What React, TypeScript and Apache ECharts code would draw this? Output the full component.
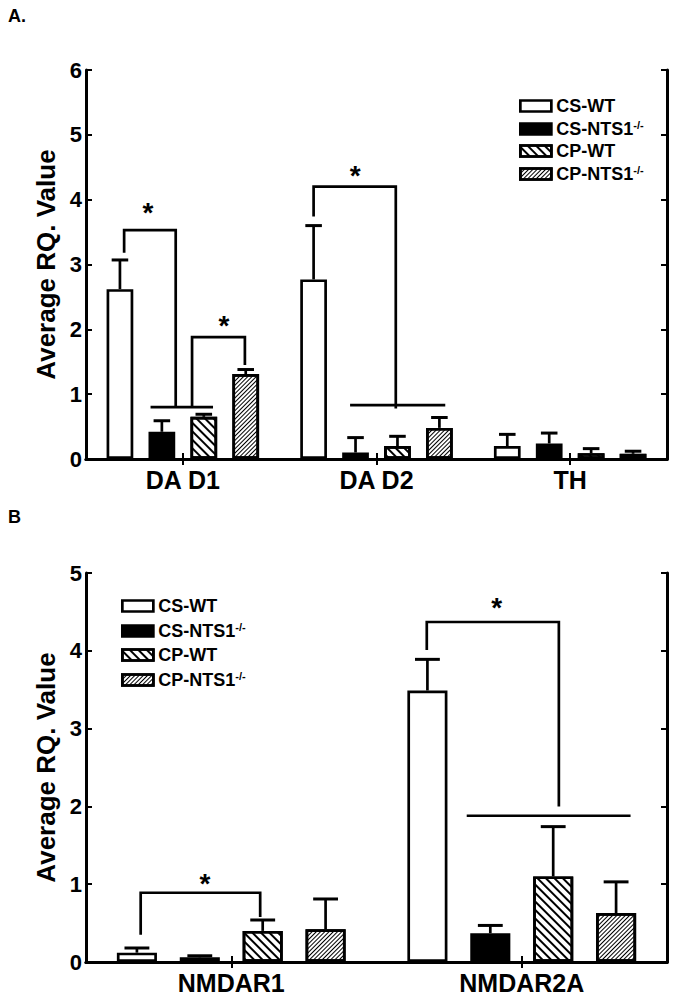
import React, { useEffect, useRef } from 'react';
import * as echarts from 'echarts';

const FONT = '"Liberation Sans", Arial, Helvetica, sans-serif';

// ---------- data ----------
const seriesNames = ['CS-WT', 'CS-NTS1-/-', 'CP-WT', 'CP-NTS1-/-'];

// Panel A
const categoriesA = ['DA D1', 'DA D2', 'TH'];
const yTicksA = [0, 1, 2, 3, 4, 5, 6];
const csWtA = [2.62, 2.77, 0.2];
const csNtsA = [0.42, 0.1, 0.24];
const cpWtA = [0.65, 0.2, 0.09];
const cpNtsA = [1.31, 0.48, 0.08];
const csWtSemA = [0.45, 0.83, 0.18];
const csNtsSemA = [0.17, 0.23, 0.16];
const cpWtSemA = [0.04, 0.15, 0.07];
const cpNtsSemA = [0.07, 0.16, 0.04];

// Panel B
const categoriesB = ['NMDAR1', 'NMDAR2A'];
const yTicksB = [0, 1, 2, 3, 4, 5];
const csWtB = [0.12, 3.49];
const csNtsB = [0.06, 0.37];
const cpWtB = [0.4, 1.1];
const cpNtsB = [0.42, 0.63];
const csWtSemB = [0.06, 0.4];
const csNtsSemB = [0.02, 0.1];
const cpWtSemB = [0.14, 0.64];
const cpNtsSemB = [0.39, 0.4];

// significance brackets: points as [category index, offset in bar slots, value]
const bracketsA = [
  [[0, -1.4, 3.18], [0, -1.4, 3.53], [0, -0.17, 3.53], [0, -0.17, 0.8]],
  [[0, -0.77, 0.8], [0, 0.72, 0.8]],
  [[0, 0.22, 0.8], [0, 0.22, 1.88], [0, 1.48, 1.88], [0, 1.48, 1.45]],
  [[1, -1.5, 3.74], [1, -1.5, 4.2], [1, 0.46, 4.2], [1, 0.46, 0.78]],
  [[1, -0.63, 0.83], [1, 1.64, 0.83]],
];
const starsA = [[0, -0.83, 3.89], [0, 0.98, 2.15], [1, -0.51, 4.46]];

const bracketsB = [
  [[0, -1.44, 0.35], [0, -1.44, 0.89], [0, 0.46, 0.89], [0, 0.46, 0.58]],
  [[1, -1.51, 4.01], [1, -1.51, 4.37], [1, 0.59, 4.37], [1, 0.59, 2.0]],
  [[1, -0.875, 1.88], [1, 1.73, 1.88]],
];
const starsB = [[0, -0.42, 1.09], [1, -0.4, 4.63]];

// ---------- layout / style constants ----------
const SLOT = 0.2165; // distance between bar centres, fraction of category width
const BAR = 0.138; // bar width, fraction of category width
const BW = 2.7;

const styles: any[] = [
  { color: '#fff', borderColor: '#000', borderWidth: BW },
  { color: '#000', borderColor: '#000', borderWidth: BW },
  {
    color: '#fff', borderColor: '#000', borderWidth: BW,
    decal: { symbol: 'rect', symbolSize: 1, dashArrayX: [1, 0], dashArrayY: [1.6, 3.2], rotation: Math.PI / 4, color: '#000', backgroundColor: '#fff' },
  },
  {
    color: '#fff', borderColor: '#000', borderWidth: BW,
    decal: { symbol: 'rect', symbolSize: 1, dashArrayX: [1, 0], dashArrayY: [0.9, 1.5], rotation: -Math.PI / 4, color: '#000', backgroundColor: '#fff' },
  },
];

const errRender = (slot: number) => (params: any, api: any) => {
  const c = api.value(0);
  const m = api.value(1);
  const s = api.value(2);
  const base = api.coord([c, m]);
  const top = api.coord([c, m + s]);
  const w = api.size([1, 0])[0];
  const x = base[0] + slot * SLOT * w;
  const half = BAR * w * 0.31;
  return {
    type: 'group',
    children: [
      { type: 'line', shape: { x1: x, y1: base[1], x2: x, y2: top[1] }, style: { stroke: '#000', lineWidth: 2.7 } },
      { type: 'line', shape: { x1: x - half, y1: top[1], x2: x + half, y2: top[1] }, style: { stroke: '#000', lineWidth: 3 } },
    ],
  };
};

const bracketRender = (brackets: number[][][]) => (params: any, api: any) => {
  const idx = api.value(2);
  const w = api.size([1, 0])[0];
  const pts = brackets[idx].map(([c, o, v]) => {
    const p = api.coord([c, v]);
    return [p[0] + o * SLOT * w, p[1]];
  });
  return { type: 'polyline', shape: { points: pts }, style: { stroke: '#000', lineWidth: 2.7, fill: null } };
};

const starRender = (params: any, api: any) => {
  const c = api.value(0);
  const o = api.value(1);
  const v = api.value(2);
  const w = api.size([1, 0])[0];
  const p = api.coord([c, v]);
  return {
    type: 'text',
    x: p[0] + o * SLOT * w,
    y: p[1] + 6,
    style: { text: '*', fontSize: 28, fontWeight: 'bold', fontFamily: FONT, fill: '#000', align: 'center', verticalAlign: 'middle' },
  };
};

function panelSeries(gi: number, cats: string[], means: number[][], sems: number[][], brackets: number[][][], stars: number[][]) {
  const out: any[] = [];
  means.forEach((vals, i) => {
    out.push({
      type: 'bar', name: seriesNames[i], xAxisIndex: gi * 2, yAxisIndex: gi * 2,
      data: vals, barWidth: `${BAR * 100}%`, barGap: `${((SLOT - BAR) / BAR) * 100}%`,
      itemStyle: styles[i], emphasis: { disabled: true }, z: 2,
    });
  });
  means.forEach((vals, i) => {
    out.push({
      type: 'custom', name: 'err' + i, xAxisIndex: gi * 2, yAxisIndex: gi * 2,
      renderItem: errRender(i - 1.5),
      encode: { x: 0, y: 1 },
      data: cats.map((_, c) => [c, vals[c], sems[i][c]]), z: 3,
    });
  });
  out.push({
    type: 'custom', name: 'brackets', xAxisIndex: gi * 2, yAxisIndex: gi * 2,
    renderItem: bracketRender(brackets), encode: { x: 0, y: 1 },
    data: brackets.map((b, i) => [b[0][0], b[0][2], i]), z: 4,
  });
  out.push({
    type: 'custom', name: 'stars', xAxisIndex: gi * 2, yAxisIndex: gi * 2,
    renderItem: starRender, encode: { x: 0, y: 2 },
    data: stars, z: 4,
  });
  return out;
}

const axisLine = { show: true, lineStyle: { color: '#000', width: 3 } };
const tick = { show: true, inside: true, length: 6, alignWithLabel: true, lineStyle: { color: '#000', width: 2 } };

function xAxes(gi: number, cats: string[], fontSize: number) {
  return [
    {
      type: 'category', gridIndex: gi, data: cats, position: 'bottom', axisLine, axisTick: tick,
      axisLabel: { color: '#000', fontSize, fontWeight: 'bold', fontFamily: FONT, margin: 8 },
    },
    {
      type: 'category', gridIndex: gi, data: cats, position: 'top', axisLine, axisTick: tick,
      axisLabel: { show: false },
    },
  ];
}

function yAxes(gi: number, ticks: number[]) {
  return [
    {
      type: 'value', gridIndex: gi, position: 'left', min: ticks[0], max: ticks[ticks.length - 1], interval: 1,
      axisLine, axisTick: { ...tick, alignWithLabel: undefined }, splitLine: { show: false },
      axisLabel: { color: '#000', fontSize: 22, fontWeight: 'bold', fontFamily: FONT, margin: 4 },
      name: 'Average RQ. Value', nameLocation: 'middle', nameGap: 27,
      nameTextStyle: { color: '#000', fontSize: 26, fontWeight: 'bold', fontFamily: FONT },
    },
    {
      type: 'value', gridIndex: gi, position: 'right', min: ticks[0], max: ticks[ticks.length - 1], interval: 1,
      axisLine, axisTick: { ...tick, alignWithLabel: undefined }, splitLine: { show: false },
      axisLabel: { show: false },
    },
  ];
}

const legendBase = {
  orient: 'vertical', data: seriesNames, icon: 'rect', itemWidth: 31, itemHeight: 11,
  selectedMode: false,
  formatter: (n: string) => (n.endsWith('-/-') ? `{b|${n.slice(0, -3)}}{s|-/-}` : `{b|${n}}`),
  textStyle: {
    color: '#000',
    rich: {
      b: { fontSize: 18, fontWeight: 'bold', fontFamily: FONT, color: '#000', lineHeight: 20 },
      s: { fontSize: 11, fontWeight: 'bold', fontFamily: FONT, color: '#000', verticalAlign: 'top', lineHeight: 10 },
    },
  },
  itemStyle: { borderWidth: 2.7, borderColor: '#000' },
};

export default function App() {
  const ref = useRef<HTMLDivElement>(null);
  useEffect(() => {
    if (!ref.current) return;
    const chart = echarts.init(ref.current, null, { renderer: 'svg' });
    chart.setOption({
      animation: false,
      backgroundColor: '#fff',
      grid: [
        { left: 86, top: 70, width: 581, height: 389 },
        { left: 86, top: 573, width: 581, height: 389 },
      ],
      xAxis: [...xAxes(0, categoriesA, 25), ...xAxes(1, categoriesB, 25)],
      yAxis: [...yAxes(0, yTicksA), ...yAxes(1, yTicksB)],
      legend: [
        { ...legendBase, left: 514, top: 92, itemGap: 4 },
        { ...legendBase, left: 116, top: 592, itemGap: 6 },
      ],
      graphic: [
        { type: 'text', left: 8, top: 7, style: { text: 'A.', fontSize: 18, fontWeight: 'bold', fontFamily: FONT, fill: '#000' } },
        { type: 'text', left: 8, top: 508, style: { text: 'B', fontSize: 18, fontWeight: 'bold', fontFamily: FONT, fill: '#000' } },
      ],
      series: [
        ...panelSeries(0, categoriesA, [csWtA, csNtsA, cpWtA, cpNtsA], [csWtSemA, csNtsSemA, cpWtSemA, cpNtsSemA], bracketsA, starsA),
        ...panelSeries(1, categoriesB, [csWtB, csNtsB, cpWtB, cpNtsB], [csWtSemB, csNtsSemB, cpWtSemB, cpNtsSemB], bracketsB, starsB),
      ],
    });
    return () => chart.dispose();
  }, []);
  return <div ref={ref} style={{ position: 'absolute', left: 0, top: 0, width: 679, height: 1001 }} />;
}
